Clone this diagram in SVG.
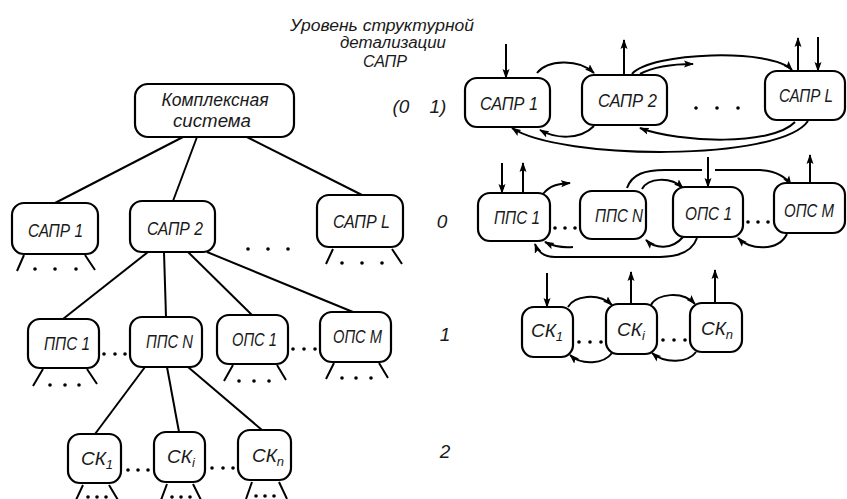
<svg xmlns="http://www.w3.org/2000/svg" width="847" height="499" viewBox="0 0 847 499">
<defs>
<style>
.b{fill:#fff;stroke:#000;stroke-width:2.2}
.l{fill:none;stroke:#000;stroke-width:2}
.a{fill:none;stroke:#000;stroke-width:2;marker-end:url(#ah)}
.t{font-family:"Liberation Sans",Arial,sans-serif;font-style:italic;font-size:19px;fill:#1a1a1a;text-anchor:middle}
.s{font-size:13px}
.lv{font-family:"Liberation Sans",Arial,sans-serif;font-style:italic;font-size:16px;fill:#1a1a1a;text-anchor:middle}
.n{font-size:19px}
.d{fill:#000}
</style>
<marker id="ah" markerWidth="10" markerHeight="8" refX="9" refY="4" orient="auto" markerUnits="userSpaceOnUse">
<path d="M0,0.5 L10,4 L0,7.5 L2,4 z" fill="#000"/>
</marker>
</defs>
<rect width="847" height="499" fill="#fff"/>

<g id="title">
<text class="lv" x="382" y="31" textLength="184" lengthAdjust="spacingAndGlyphs">Уровень структурной</text>
<text class="lv" x="393" y="48" textLength="106" lengthAdjust="spacingAndGlyphs">детализации</text>
<text class="lv" x="385" y="67" textLength="44" lengthAdjust="spacingAndGlyphs">САПР</text>
</g>
<g id="levels">
<text class="lv n" x="401" y="113">(0</text>
<text class="lv n" x="438" y="113">1)</text>
<text class="lv n" x="442" y="228">0</text>
<text class="lv n" x="445" y="341">1</text>
<text class="lv n" x="445" y="458">2</text>
</g>

<g id="tree-edges">
<path class="l" d="M183,137 L55,203"/>
<path class="l" d="M197,137 L173,201"/>
<path class="l" d="M245,136 L362,195"/>
<path class="l" d="M148,252 L63,319"/>
<path class="l" d="M164,252 L166,317"/>
<path class="l" d="M188,252 L252,315"/>
<path class="l" d="M207,252 L353,312"/>
<path class="l" d="M145,367 L95,434"/>
<path class="l" d="M167,367 L179,432"/>
<path class="l" d="M188,367 L262,430"/>
</g>

<g id="tree-top">
<rect class="b" x="135" y="84" width="159" height="53" rx="13"/>
<text class="t" x="215" y="106" textLength="107" lengthAdjust="spacingAndGlyphs">Комплексная</text>
<text class="t" x="212" y="127" textLength="78" lengthAdjust="spacingAndGlyphs">система</text>
</g>
<g id="tree-sapr1">
<rect class="b" x="12" y="203" width="86" height="51" rx="12"/>
<text class="t" x="55.5" y="237" textLength="55" lengthAdjust="spacingAndGlyphs">САПР 1</text>
<path class="l" d="M24,255 L17,271 M85,255 L95,270"/>
<circle class="d" cx="35" cy="269" r="1.8"/><circle class="d" cx="55" cy="269" r="1.8"/><circle class="d" cx="76" cy="269" r="1.8"/>
</g>
<g id="tree-sapr2">
<rect class="b" x="130" y="201" width="85" height="51" rx="12"/>
<text class="t" x="175" y="235" textLength="56" lengthAdjust="spacingAndGlyphs">САПР 2</text>
</g>
<g id="tree-dots1">
<circle class="d" cx="248" cy="249" r="1.8"/><circle class="d" cx="268" cy="249" r="1.8"/><circle class="d" cx="288" cy="249" r="1.8"/>
</g>
<g id="tree-saprL">
<rect class="b" x="317" y="195" width="86" height="52" rx="12"/>
<text class="t" x="361.5" y="228" textLength="57" lengthAdjust="spacingAndGlyphs">САПР L</text>
<path class="l" d="M333,249 L326,264 M392,249 L402,264"/>
<circle class="d" cx="342" cy="263" r="1.8"/><circle class="d" cx="362" cy="263" r="1.8"/><circle class="d" cx="382" cy="263" r="1.8"/>
</g>

<g id="tree-pps1">
<rect class="b" x="28" y="319" width="71" height="49" rx="12"/>
<text class="t" x="67" y="350" textLength="46" lengthAdjust="spacingAndGlyphs">ППС 1</text>
<path class="l" d="M43,369 L33,386 M87,369 L97,384"/>
<circle class="d" cx="50" cy="385" r="1.8"/><circle class="d" cx="65" cy="385" r="1.8"/><circle class="d" cx="79" cy="385" r="1.8"/>
</g>
<g id="tree-dots2">
<circle class="d" cx="104" cy="354" r="1.8"/><circle class="d" cx="115" cy="354" r="1.8"/><circle class="d" cx="125" cy="354" r="1.8"/>
</g>
<g id="tree-ppsN">
<rect class="b" x="130" y="317" width="72" height="50" rx="12"/>
<text class="t" x="169.5" y="348" textLength="47" lengthAdjust="spacingAndGlyphs">ППС N</text>
</g>
<g id="tree-ops1">
<rect class="b" x="217" y="315" width="71" height="49" rx="12"/>
<text class="t" x="254.5" y="346" textLength="45" lengthAdjust="spacingAndGlyphs">ОПС 1</text>
<path class="l" d="M233,365 L224,381 M277,365 L286,380"/>
<circle class="d" cx="239" cy="381" r="1.8"/><circle class="d" cx="254" cy="381" r="1.8"/><circle class="d" cx="269" cy="381" r="1.8"/>
</g>
<g id="tree-dots3">
<circle class="d" cx="293" cy="349" r="1.8"/><circle class="d" cx="304" cy="349" r="1.8"/><circle class="d" cx="315" cy="349" r="1.8"/>
</g>
<g id="tree-opsM">
<rect class="b" x="320" y="312" width="71" height="50" rx="12"/>
<text class="t" x="357.5" y="343" textLength="49" lengthAdjust="spacingAndGlyphs">ОПС M</text>
<path class="l" d="M334,363 L326,379 M379,363 L388,378"/>
<circle class="d" cx="342" cy="378" r="1.8"/><circle class="d" cx="356" cy="378" r="1.8"/><circle class="d" cx="371" cy="378" r="1.8"/>
</g>

<g id="tree-sk1">
<rect class="b" x="68" y="434" width="53" height="49" rx="12"/>
<text class="t" x="97" y="465">СК<tspan class="s" dy="4">1</tspan></text>
<path class="l" d="M83,485 L76,500 M109,485 L118,500"/>
<circle class="d" cx="88" cy="497" r="1.8"/><circle class="d" cx="97" cy="497" r="1.8"/><circle class="d" cx="106" cy="497" r="1.8"/>
</g>
<g id="tree-dots4">
<circle class="d" cx="128" cy="470" r="1.8"/><circle class="d" cx="138" cy="470" r="1.8"/><circle class="d" cx="148" cy="470" r="1.8"/>
</g>
<g id="tree-ski">
<rect class="b" x="154" y="432" width="51" height="50" rx="12"/>
<text class="t" x="181" y="463">СК<tspan class="s" dy="4">i</tspan></text>
<path class="l" d="M167,484 L161,500 M193,484 L201,500"/>
<circle class="d" cx="172" cy="497" r="1.8"/><circle class="d" cx="181" cy="497" r="1.8"/><circle class="d" cx="190" cy="497" r="1.8"/>
</g>
<g id="tree-dots5">
<circle class="d" cx="212" cy="468" r="1.8"/><circle class="d" cx="223" cy="468" r="1.8"/><circle class="d" cx="233" cy="468" r="1.8"/>
</g>
<g id="tree-skn">
<rect class="b" x="238" y="430" width="53" height="50" rx="12"/>
<text class="t" x="268" y="462">СК<tspan class="s" dy="4">n</tspan></text>
<path class="l" d="M252,482 L246,499 M279,482 L287,499"/>
<circle class="d" cx="256" cy="496" r="1.8"/><circle class="d" cx="265" cy="496" r="1.8"/><circle class="d" cx="274" cy="496" r="1.8"/>
</g>

<g id="connectors">
<path class="a" d="M506,44 L506,78"/>
<path class="a" d="M624,75 L624,40"/>
<path class="a" d="M798,71 L798,38"/>
<path class="a" d="M818,37 L818,71"/>
<path class="a" d="M537,73 C547,60 578,58 594,73"/>
<path class="a" d="M632,74 C650,52 772,48 792,70"/>
<path class="a" d="M640,74 C655,66 675,64 693,64"/>
<path class="a" d="M594,126 C580,140 556,139 540,130"/>
<path class="a" d="M795,122 C772,146 680,143 640,128"/>
<path class="a" d="M808,121 C780,162 560,160 512,128"/>
<path class="a" d="M502,163 L502,193"/>
<path class="a" d="M523,193 L523,163"/>
<path class="a" d="M543,194 C550,185 558,184 570,183"/>
<path class="a" d="M642,189 C648,178 670,176 683,188"/>
<path class="l" d="M627,188 C632,174 645,170 665,170 L702,170"/>
<path class="a" d="M715,170 L760,170 C778,171 786,177 791,185"/>
<path class="a" d="M708,157 L708,187"/>
<path class="a" d="M810,183 L810,155"/>
<path class="a" d="M683,237 C672,250 655,249 646,240"/>
<path class="a" d="M787,234 C778,252 750,250 738,238"/>
<path class="a" d="M697,238 C690,258 665,257 650,257 L555,257 C545,257 538,252 535,244"/>
<path class="a" d="M573,247 C563,248 553,246 545,242"/>
<path class="a" d="M547,273 L547,307"/>
<path class="a" d="M631,304 L631,272"/>
<path class="a" d="M715,303 L715,270"/>
<path class="a" d="M568,307 C574,296 598,292 612,305"/>
<path class="a" d="M651,305 C657,294 682,290 695,304"/>
<path class="a" d="M612,353 C604,364 582,366 570,355"/>
<path class="a" d="M696,352 C688,363 665,364 652,353"/>
</g>

<g id="r-sapr1">
<rect class="b" x="465" y="78" width="85" height="49" rx="12"/>
<text class="t" x="509" y="110" textLength="58" lengthAdjust="spacingAndGlyphs">САПР 1</text>
</g>
<g id="r-sapr2">
<rect class="b" x="582" y="75" width="85" height="50" rx="12"/>
<text class="t" x="627.5" y="107" textLength="59" lengthAdjust="spacingAndGlyphs">САПР 2</text>
</g>
<g id="r-dots1">
<circle class="d" cx="696" cy="108" r="1.8"/><circle class="d" cx="717" cy="108" r="1.8"/><circle class="d" cx="738" cy="108" r="1.8"/>
</g>
<g id="r-saprL">
<rect class="b" x="765" y="71" width="80" height="49" rx="12"/>
<text class="t" x="806" y="102" textLength="54" lengthAdjust="spacingAndGlyphs">САПР L</text>
</g>

<g id="r-pps1">
<rect class="b" x="478" y="193" width="72" height="48" rx="12"/>
<text class="t" x="517" y="224" textLength="46" lengthAdjust="spacingAndGlyphs">ППС 1</text>
</g>
<g id="r-dots2">
<circle class="d" cx="555" cy="228" r="1.8"/><circle class="d" cx="565" cy="228" r="1.8"/><circle class="d" cx="575" cy="228" r="1.8"/>
</g>
<g id="r-ppsN">
<rect class="b" x="580" y="191" width="66" height="48" rx="12"/>
<text class="t" x="619" y="222" textLength="48" lengthAdjust="spacingAndGlyphs">ППС N</text>
</g>
<g id="r-ops1">
<rect class="b" x="673" y="187" width="70" height="50" rx="12"/>
<text class="t" x="708.5" y="220" textLength="47" lengthAdjust="spacingAndGlyphs">ОПС 1</text>
</g>
<g id="r-dots3">
<circle class="d" cx="748" cy="222" r="1.8"/><circle class="d" cx="758" cy="222" r="1.8"/><circle class="d" cx="768" cy="222" r="1.8"/>
</g>
<g id="r-opsM">
<rect class="b" x="774" y="183" width="71" height="50" rx="12"/>
<text class="t" x="809" y="217" textLength="50" lengthAdjust="spacingAndGlyphs">ОПС M</text>
</g>

<g id="r-sk1">
<rect class="b" x="522" y="307" width="51" height="50" rx="12"/>
<text class="t" x="547" y="337">СК<tspan class="s" dy="4">1</tspan></text>
</g>
<g id="r-dots4">
<circle class="d" cx="579" cy="342" r="1.8"/><circle class="d" cx="590" cy="342" r="1.8"/><circle class="d" cx="601" cy="342" r="1.8"/>
</g>
<g id="r-ski">
<rect class="b" x="606" y="304" width="51" height="50" rx="12"/>
<text class="t" x="631" y="336">СК<tspan class="s" dy="4">i</tspan></text>
</g>
<g id="r-dots5">
<circle class="d" cx="663" cy="340" r="1.8"/><circle class="d" cx="674" cy="340" r="1.8"/><circle class="d" cx="685" cy="340" r="1.8"/>
</g>
<g id="r-skn">
<rect class="b" x="690" y="303" width="52" height="49" rx="12"/>
<text class="t" x="717" y="335">СК<tspan class="s" dy="4">n</tspan></text>
</g>
</svg>
